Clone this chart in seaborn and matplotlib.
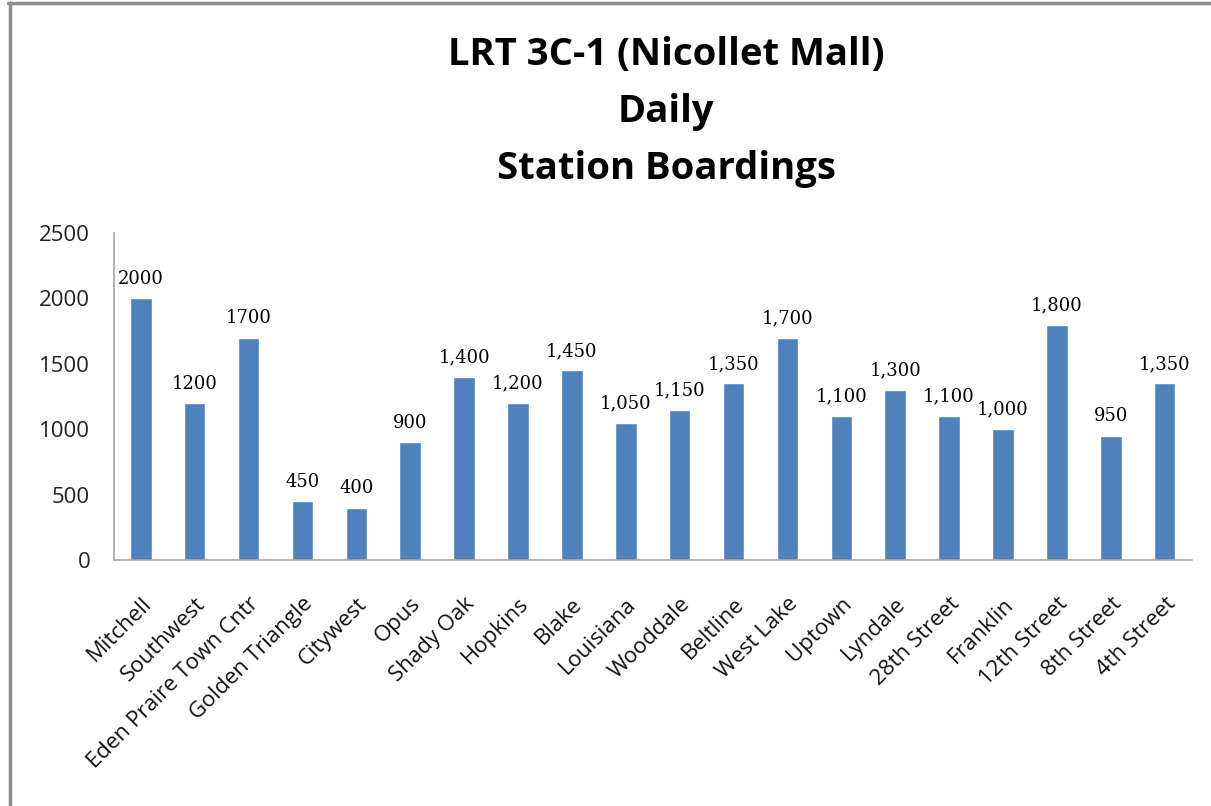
import matplotlib
matplotlib.use("Agg")
import matplotlib.pyplot as plt
import seaborn as sns
import pandas as pd
from matplotlib.lines import Line2D

stations = ["Mitchell", "Southwest", "Eden Praire Town Cntr", "Golden Triangle",
            "Citywest", "Opus", "Shady Oak", "Hopkins", "Blake", "Louisiana",
            "Wooddale", "Beltline", "West Lake", "Uptown", "Lyndale",
            "28th Street", "Franklin", "12th Street", "8th Street", "4th Street"]
boardings = [2000, 1200, 1700, 450, 400, 900, 1400, 1200, 1450, 1050,
             1150, 1350, 1700, 1100, 1300, 1100, 1000, 1800, 950, 1350]
# the first three labels have no thousands separator in the original
labels = ["2000", "1200", "1700", "450", "400", "900", "1,400", "1,200", "1,450",
          "1,050", "1,150", "1,350", "1,700", "1,100", "1,300", "1,100", "1,000",
          "1,800", "950", "1,350"]
y_ticks = [0, 500, 1000, 1500, 2000, 2500]

df = pd.DataFrame({"station": stations, "boardings": boardings})

sns.set_style("white")
plt.rcParams["font.family"] = ["Open Sans", "DejaVu Sans"]

fig = plt.figure(figsize=(12.11, 8.06), dpi=100)
ax = fig.add_axes([0.094, 0.305, 0.89, 0.406])

sns.barplot(data=df, x="station", y="boardings", color="#4F81BD",
            width=0.4, saturation=1, ax=ax)

for i, (v, lab) in enumerate(zip(boardings, labels)):
    ax.text(i, v + 80, lab, ha="center", va="bottom", fontsize=13,
            family=["DejaVu Serif"], color="black")

ax.set_ylim(0, 2500)
ax.set_yticks(y_ticks)
ax.set_yticklabels([str(t) for t in y_ticks], fontsize=16, color="#222222")
ax.set_xlim(-0.5, len(stations) - 0.5)
ax.set_xticks(range(len(stations)))
ax.set_xticklabels(stations, rotation=45, ha="right", rotation_mode="anchor",
                   fontsize=16, color="#111111")
ax.tick_params(axis="y", pad=17, length=0)
ax.tick_params(axis="x", pad=24, length=0)
ax.set_xlabel("")
ax.set_ylabel("")

for side in ["top", "right"]:
    ax.spines[side].set_visible(False)
for side in ["left", "bottom"]:
    ax.spines[side].set_color("#A6A6A6")
    ax.spines[side].set_linewidth(1.2)

fig.text(0.55, 0.861, "LRT 3C-1 (Nicollet Mall)\nDaily\nStation Boardings",
         ha="center", va="center", fontsize=27.5, fontweight="bold",
         linespacing=1.65, color="black")

# outer chart frame (only left and top edges visible in the original)
fig.add_artist(Line2D([0.008, 0.008], [0.0, 0.996], color="#8C8C8C", lw=2.5))
fig.add_artist(Line2D([0.007, 1.0], [0.996, 0.996], color="#8C8C8C", lw=2.5))

fig.savefig("out.png", dpi=100)
